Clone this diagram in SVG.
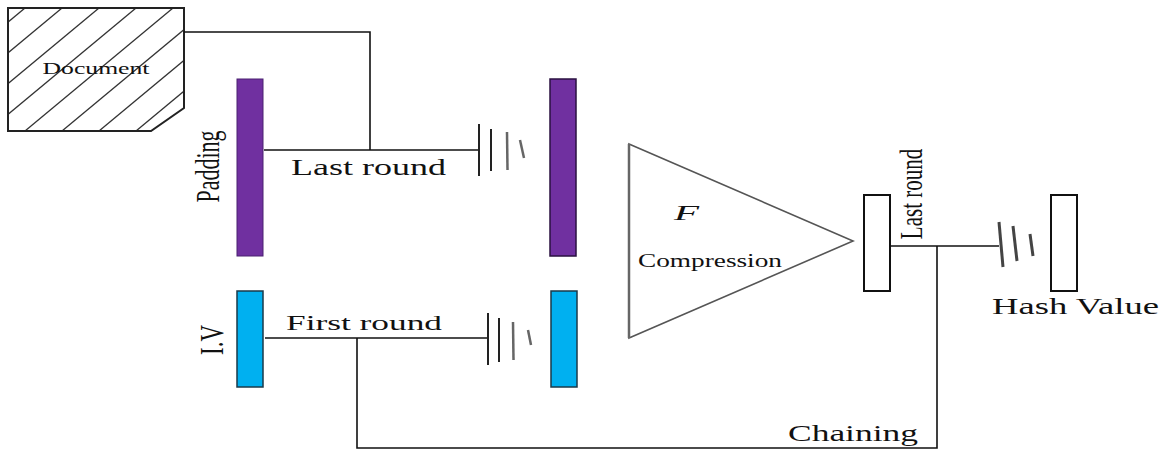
<svg xmlns="http://www.w3.org/2000/svg" width="1164" height="451" viewBox="0 0 1164 451">
<style>
.ln{stroke:#111;stroke-width:1.6;fill:none}
.bat{stroke:#222;fill:none;stroke-linecap:butt}
.t{font-family:"Liberation Serif","Times New Roman",serif;fill:#111}
.box{fill:#fff;stroke:#111;stroke-width:2}
</style>
<defs>
<clipPath id="docclip"><polygon points="8,8 184,8 184,108 151,131 8,131"/></clipPath>
</defs>
<rect width="1164" height="451" fill="#fff"/>

<g id="document">
<g clip-path="url(#docclip)" stroke="#333" stroke-width="1.3">
<line x1="-160" y1="131" x2="-12" y2="8"/>
<line x1="-123" y1="131" x2="25" y2="8"/>
<line x1="-86" y1="131" x2="62" y2="8"/>
<line x1="-49" y1="131" x2="99" y2="8"/>
<line x1="-12" y1="131" x2="136" y2="8"/>
<line x1="25" y1="131" x2="173" y2="8"/>
<line x1="62" y1="131" x2="210" y2="8"/>
<line x1="99" y1="131" x2="247" y2="8"/>
<line x1="136" y1="131" x2="284" y2="8"/>
<line x1="173" y1="131" x2="321" y2="8"/>
</g>
<polygon points="8,8 184,8 184,108 151,131 8,131" fill="none" stroke="#222" stroke-width="2"/>
<text class="t" x="96" y="74" font-size="17" text-anchor="middle" textLength="107" lengthAdjust="spacingAndGlyphs">Document</text>
</g>

<g id="padding">
<rect x="237" y="79" width="26" height="177" fill="#7030A0" stroke="#4a2070" stroke-width="1"/>
<text class="t" font-size="22" text-anchor="middle" transform="translate(219,166.5) scale(1.5,1) rotate(-90)">Padding</text>
</g>

<g id="padding-out">
<rect x="550" y="79" width="26" height="177" fill="#7030A0" stroke="#2a1040" stroke-width="1.5"/>
</g>

<g id="iv">
<rect x="237" y="291" width="26" height="96" fill="#00B0F0" stroke="#1a3a4a" stroke-width="1.5"/>
<text class="t" font-size="23" text-anchor="middle" transform="translate(223,340) scale(1.5,1) rotate(-90)">I.V</text>
</g>

<g id="iv-out">
<rect x="551" y="291" width="26" height="96" fill="#00B0F0" stroke="#1a3a4a" stroke-width="1.5"/>
</g>

<g id="compression">
<polygon points="629,144 853,241 629,338" fill="#fff" stroke="#555" stroke-width="1.6"/>
<line x1="629" y1="144" x2="629" y2="338" stroke="#666" stroke-width="2.5"/>
<text class="t" x="674" y="220" font-size="20" font-style="italic" textLength="25" lengthAdjust="spacingAndGlyphs">F</text>
<text class="t" x="638" y="267" font-size="18" textLength="144" lengthAdjust="spacingAndGlyphs">Compression</text>
</g>

<g id="output-block">
<rect class="box" x="864" y="195" width="26" height="96"/>
<text class="t" font-size="21" text-anchor="middle" transform="translate(922,194) scale(1.5,1) rotate(-90)">Last round</text>
</g>

<g id="hash-value">
<rect class="box" x="1051" y="195" width="26" height="96"/>
<text class="t" x="992" y="314" font-size="23" textLength="167" lengthAdjust="spacingAndGlyphs">Hash Value</text>
</g>

<g id="connectors">
<polyline class="ln" points="184,32 370,32 370,150"/>
<line class="ln" x1="264" y1="150" x2="479" y2="150"/>
<line class="ln" x1="265" y1="338" x2="488" y2="338"/>
<polyline class="ln" points="357,338 357,448 937,448 937,246"/>
<line class="ln" x1="890" y1="246" x2="999" y2="246"/>

<g id="battery1" class="bat">
<line x1="479" y1="124" x2="479" y2="176" stroke-width="2"/>
<line x1="491" y1="129" x2="491" y2="171" stroke-width="2"/>
<line x1="507" y1="132" x2="507.5" y2="170" stroke-width="2.5" stroke="#666"/>
<line x1="520" y1="140" x2="524" y2="158" stroke-width="2.5" stroke="#666"/>
</g>
<g id="battery3" class="bat">
<line x1="488" y1="313" x2="488" y2="365" stroke-width="2"/>
<line x1="499" y1="318" x2="499" y2="362" stroke-width="2"/>
<line x1="513" y1="322" x2="513.5" y2="360" stroke-width="2.5" stroke="#666"/>
<line x1="528" y1="330" x2="531" y2="345" stroke-width="2.5" stroke="#666"/>
</g>
<g id="battery2" class="bat">
<line x1="999" y1="222" x2="1003" y2="267" stroke-width="3" stroke="#444"/>
<line x1="1013" y1="226" x2="1017" y2="261" stroke-width="3" stroke="#444"/>
<line x1="1030" y1="234" x2="1033" y2="256" stroke-width="3" stroke="#444"/>
</g>
</g>

<g id="labels">
<text class="t" x="291" y="175" font-size="23" textLength="155" lengthAdjust="spacingAndGlyphs">Last round</text>
<text class="t" x="286" y="330" font-size="22" textLength="156" lengthAdjust="spacingAndGlyphs">First round</text>
<text class="t" x="788" y="441" font-size="24" textLength="130" lengthAdjust="spacingAndGlyphs">Chaining</text>
</g>
</svg>
